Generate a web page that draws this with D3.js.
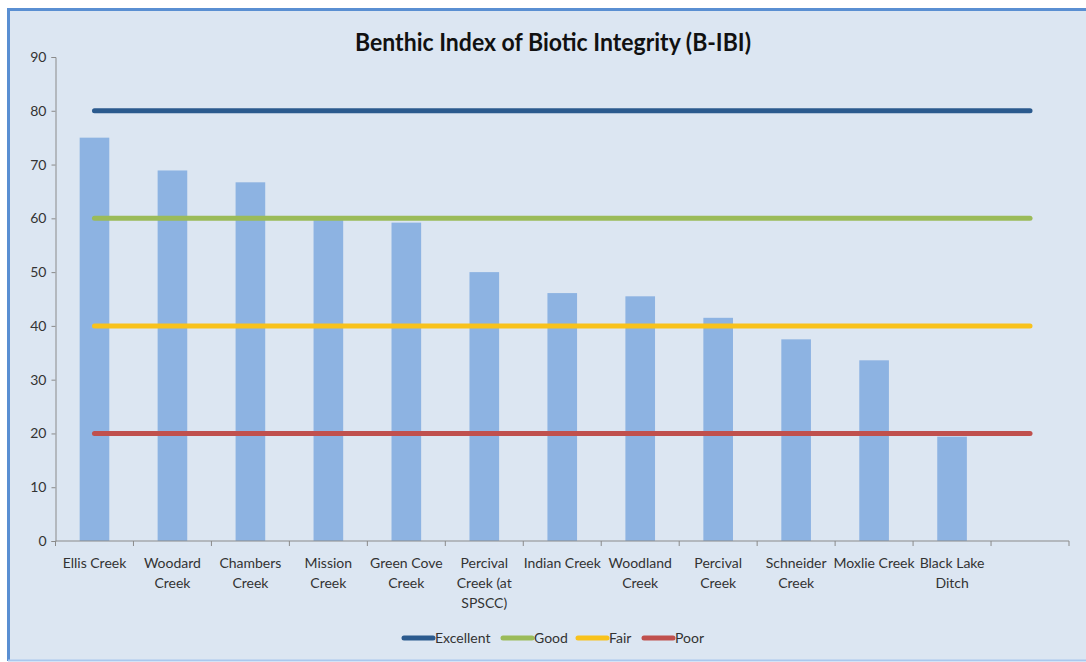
<!DOCTYPE html>
<html>
<head>
<meta charset="utf-8">
<script src="https://cdn.jsdelivr.net/npm/d3@7"></script>
<style>
  html, body { margin: 0; padding: 0; background: #ffffff; }
  svg { display: block; }
  text { font-family: Lato, "Open Sans", sans-serif; }
</style>
</head>
<body>
<svg id="chart" width="1086" height="662"></svg>
<script>
// Sites (one empty slot at the end of the axis) and their B-IBI scores
const sites = [
  ["Ellis Creek"],
  ["Woodard", "Creek"],
  ["Chambers", "Creek"],
  ["Mission", "Creek"],
  ["Green Cove", "Creek"],
  ["Percival", "Creek (at", "SPSCC)"],
  ["Indian Creek"],
  ["Woodland", "Creek"],
  ["Percival", "Creek"],
  ["Schneider", "Creek"],
  ["Moxlie Creek"],
  ["Black Lake", "Ditch"],
  [""]
];
const scores = [75, 68.9, 66.7, 60.3, 59.2, 50, 46.1, 45.5, 41.5, 37.5, 33.6, 19.4, null];

// Condition class thresholds
const classNames = ["Excellent", "Good", "Fair", "Poor"];
const classValues = [80, 60, 40, 20];
const classColors = ["#2b5a8e", "#9bbb59", "#f8c21c", "#c0504d"];

const yTicks = [0, 10, 20, 30, 40, 50, 60, 70, 80, 90];

const svg = d3.select("#chart");

// chart frame
svg.append("rect")
  .attr("x", 9).attr("y", 10)
  .attr("width", 1090).attr("height", 650)
  .attr("fill", "#dce6f2");
svg.append("line").attr("x1", 9).attr("x2", 1086).attr("y1", 9.5).attr("y2", 9.5)
  .attr("stroke", "#5a8fd2").attr("stroke-width", 3);
svg.append("line").attr("x1", 8.5).attr("x2", 8.5).attr("y1", 8).attr("y2", 661)
  .attr("stroke", "#5a8fd2").attr("stroke-width", 3);
svg.append("line").attr("x1", 8).attr("x2", 1086).attr("y1", 660.5).attr("y2", 660.5)
  .attr("stroke", "#a9c8ee").attr("stroke-width", 2);

const plot = { left: 55.5, right: 1069, top: 57, bottom: 541 };

const x = d3.scaleBand()
  .domain(d3.range(sites.length))
  .range([plot.left, plot.right])
  .paddingInner(0).paddingOuter(0);

const y = d3.scaleLinear()
  .domain([0, 90])
  .range([plot.bottom, plot.top]);

// title
svg.append("text")
  .attr("x", 553).attr("y", 51)
  .attr("text-anchor", "middle")
  .attr("font-size", 24).attr("font-weight", "bold")
  .attr("fill", "#111")
  .attr("textLength", 396).attr("lengthAdjust", "spacingAndGlyphs")
  .text("Benthic Index of Biotic Integrity (B-IBI)");

// y axis
const yAxis = svg.append("g")
  .attr("transform", `translate(${plot.left},0)`)
  .call(d3.axisLeft(y).tickValues(yTicks).tickSize(4).tickPadding(5).tickSizeOuter(4));
yAxis.select(".domain").attr("stroke", "#8a8a8a");
yAxis.selectAll(".tick line").attr("stroke", "#8a8a8a");
yAxis.selectAll(".tick text")
  .attr("font-size", 14).attr("fill", "#333")
  .style("font-family", "Lato, 'Open Sans', sans-serif");

// bars
const barW = x.bandwidth() * 0.38;
svg.append("g").selectAll("rect")
  .data(scores.map((v, i) => ({ v, i })).filter(d => d.v != null))
  .join("rect")
  .attr("x", d => x(d.i) + x.bandwidth() / 2 - barW / 2)
  .attr("y", d => y(d.v))
  .attr("width", barW)
  .attr("height", d => y(0) - y(d.v))
  .attr("fill", "#8db3e2");

// x axis with tick marks at category boundaries
const xAxisG = svg.append("g").attr("transform", `translate(0,${plot.bottom})`);
xAxisG.append("line")
  .attr("x1", plot.left).attr("x2", plot.right)
  .attr("stroke", "#8a8a8a");
xAxisG.selectAll("line.tk")
  .data(d3.range(sites.length + 1))
  .join("line").attr("class", "tk")
  .attr("x1", i => i < sites.length ? x(i) : plot.right)
  .attr("x2", i => i < sites.length ? x(i) : plot.right)
  .attr("y1", 0).attr("y2", 5)
  .attr("stroke", "#8a8a8a");
xAxisG.selectAll("text")
  .data(sites)
  .join("text")
  .attr("x", (d, i) => x(i) + x.bandwidth() / 2)
  .attr("y", 27)
  .attr("text-anchor", "middle")
  .attr("font-size", 14).attr("fill", "#333")
  .each(function (lines) {
    d3.select(this).selectAll("tspan")
      .data(lines).join("tspan")
      .attr("x", d3.select(this).attr("x"))
      .attr("dy", (l, k) => k === 0 ? 0 : 20)
      .text(l => l);
  });

// threshold lines
const lineStart = x(0) + x.bandwidth() / 2;
const lineEnd = x(sites.length - 1) + x.bandwidth() / 2;
svg.append("g").selectAll("line")
  .data(classValues.map((v, i) => ({ v, c: classColors[i] })))
  .join("line")
  .attr("x1", lineStart).attr("x2", lineEnd)
  .attr("y1", d => y(d.v)).attr("y2", d => y(d.v))
  .attr("stroke", d => d.c)
  .attr("stroke-width", 5)
  .attr("stroke-linecap", "round");

// legend
const legendX = [404, 503, 578, 644];
const legend = svg.append("g").attr("transform", "translate(0,638)");
const items = legend.selectAll("g")
  .data(classNames.map((n, i) => ({ n, c: classColors[i], x: legendX[i] })))
  .join("g")
  .attr("transform", d => `translate(${d.x},0)`);
items.append("line")
  .attr("x1", 0).attr("x2", 29).attr("y1", 0).attr("y2", 0)
  .attr("stroke", d => d.c).attr("stroke-width", 5).attr("stroke-linecap", "round");
items.append("text")
  .attr("x", 31).attr("y", 5)
  .attr("font-size", 14).attr("fill", "#333")
  .text(d => d.n);
</script>
</body>
</html>
